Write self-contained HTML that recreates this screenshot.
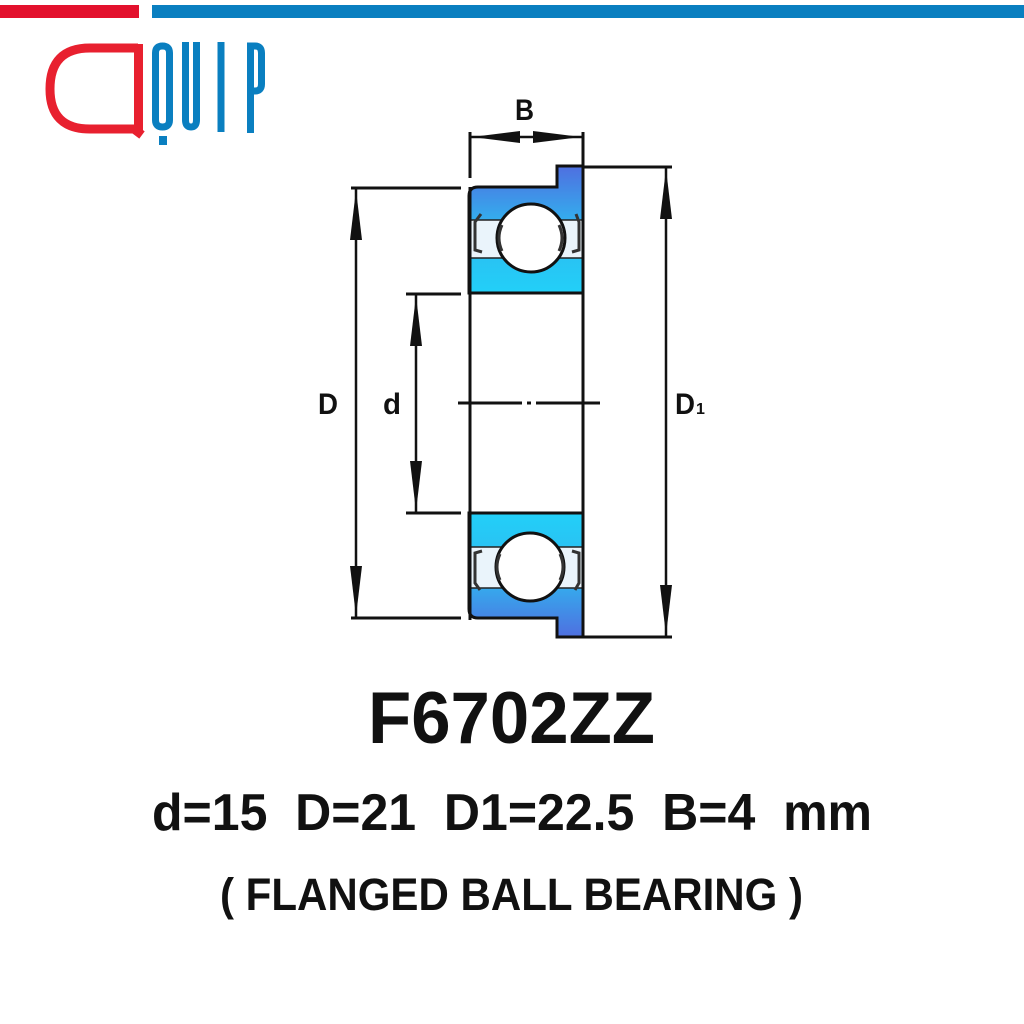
<!DOCTYPE html>
<html><head><meta charset="utf-8"><style>
html,body{margin:0;padding:0;background:#fff;}
svg{display:block}
</style></head><body>
<svg width="1024" height="1024" viewBox="0 0 1024 1024" xmlns="http://www.w3.org/2000/svg">
<defs>
<linearGradient id="gt" x1="0" y1="0" x2="0" y2="1">
<stop offset="0" stop-color="#4f6fe0"/><stop offset="0.5" stop-color="#2fb8f0"/><stop offset="1" stop-color="#22d0f8"/>
</linearGradient>
<linearGradient id="gb" x1="0" y1="1" x2="0" y2="0">
<stop offset="0" stop-color="#4f6fe0"/><stop offset="0.5" stop-color="#2fb8f0"/><stop offset="1" stop-color="#22d0f8"/>
</linearGradient>
</defs>
<rect x="0" y="5" width="139" height="13" fill="#e3112d"/>
<rect x="152" y="5" width="872" height="13" fill="#0a7fc0"/>
<path d="M138 48 L90 48 Q50 48 50 89 Q50 129 90 129 L134 129 L142 135" fill="none" stroke="#e8202f" stroke-width="9"/>
<rect x="134" y="44" width="9" height="87" fill="#e8202f"/>
<g fill="none" stroke="#0a7fc0" stroke-width="7">
<path d="M155.5 120 L155.5 53 Q155.5 46 162.5 46 Q169.5 46 169.5 53 L169.5 120 Q169.5 127 162.5 127 Q155.5 127 155.5 120 Z"/>
<path d="M185.5 42 L185.5 120 Q185.5 127 191 127 Q196.5 127 196.5 120 L196.5 42"/>
<path d="M221 42 L221 132"/>
<path d="M250.5 133 L250.5 46 L255 46 Q261.5 46 261.5 53 L261.5 84 Q261.5 91 255 91 L250.5 91"/>
</g>
<rect x="159" y="136" width="8" height="9" fill="#0a7fc0"/>
<path d="M469 196 Q469 187 478 187 L557 187 L557 166 L583 166 L583 293 L469 293 Z" fill="url(#gt)" stroke="#111" stroke-width="3"/>
<rect x="470" y="220" width="112" height="38" fill="#eaf4fb"/>
<path d="M470 258 L582 258 M470 220 L582 220" stroke="#222" stroke-width="1.5"/>
<circle cx="531" cy="238" r="34" fill="#fff" stroke="#111" stroke-width="3"/>
<g fill="none" stroke="#333" stroke-width="3">
<path d="M481 214 L475 222 L475 250 L482 252"/>
<path d="M576 214 L579 222 L579 250 L572 252"/>
<path d="M502 225 Q496 238 502 251"/>
<path d="M559 225 Q565 238 559 251"/>
</g>
<path d="M469 513 L583 513 L583 637 L557 637 L557 618 L478 618 Q469 618 469 609 Z" fill="url(#gb)" stroke="#111" stroke-width="3"/>
<rect x="470" y="547" width="112" height="41" fill="#eaf4fb"/>
<path d="M470 547 L582 547 M470 588 L582 588" stroke="#222" stroke-width="1.5"/>
<circle cx="530" cy="567" r="34" fill="#fff" stroke="#111" stroke-width="3"/>
<g fill="none" stroke="#333" stroke-width="3">
<path d="M482 551 L475 553 L475 583 L480 590"/>
<path d="M572 551 L579 553 L579 583 L575 590"/>
<path d="M500 554 Q494 567 500 580"/>
<path d="M560 554 Q566 567 560 580"/>
</g>
<g stroke="#111" stroke-width="3" fill="none">
<path d="M470 132 L470 178"/>
<path d="M470 187 L470 620"/>
<path d="M583 132 L583 637"/>
<path d="M458 403 L522 403 M527 403 L531 403 M536 403 L600 403"/>
<path d="M351 188 L461 188 M351 618 L461 618"/>
<path d="M406 294 L461 294 M406 513 L461 513"/>
<path d="M583 167 L672 167 M583 637 L672 637"/>
</g>
<g stroke="#111" stroke-width="2.5">
<path d="M356 188 L356 618"/>
<path d="M416 294 L416 513"/>
<path d="M666 167 L666 637"/>
<path d="M470 137 L583 137"/>
</g>
<g fill="#111">
<path d="M356 190 L350 240 L362 240 Z"/><path d="M356 616 L350 566 L362 566 Z"/>
<path d="M416 296 L410 346 L422 346 Z"/><path d="M416 511 L410 461 L422 461 Z"/>
<path d="M666 169 L660 219 L672 219 Z"/><path d="M666 635 L660 585 L672 585 Z"/>
<path d="M472 137 L520 131 L520 143 Z"/><path d="M581 137 L533 131 L533 143 Z"/>
</g>
<g font-family="Liberation Sans, sans-serif" font-weight="bold" fill="#111">
<text x="515" y="120" font-size="30" textLength="19" lengthAdjust="spacingAndGlyphs">B</text>
<text x="318" y="414" font-size="30" textLength="20" lengthAdjust="spacingAndGlyphs">D</text>
<text x="383" y="414" font-size="30" textLength="18" lengthAdjust="spacingAndGlyphs">d</text>
<text x="675" y="414" font-size="30" textLength="20" lengthAdjust="spacingAndGlyphs">D</text>
<text x="696" y="414" font-size="16">1</text>
<text x="368" y="743" font-size="73" textLength="287" lengthAdjust="spacingAndGlyphs">F6702ZZ</text>
<text x="152" y="830" font-size="52" textLength="720" lengthAdjust="spacingAndGlyphs" xml:space="preserve">d=15  D=21  D1=22.5  B=4  mm</text>
<text x="220" y="910" font-size="45" textLength="583" lengthAdjust="spacingAndGlyphs">( FLANGED BALL BEARING )</text>
</g>
</svg>
</body></html>
